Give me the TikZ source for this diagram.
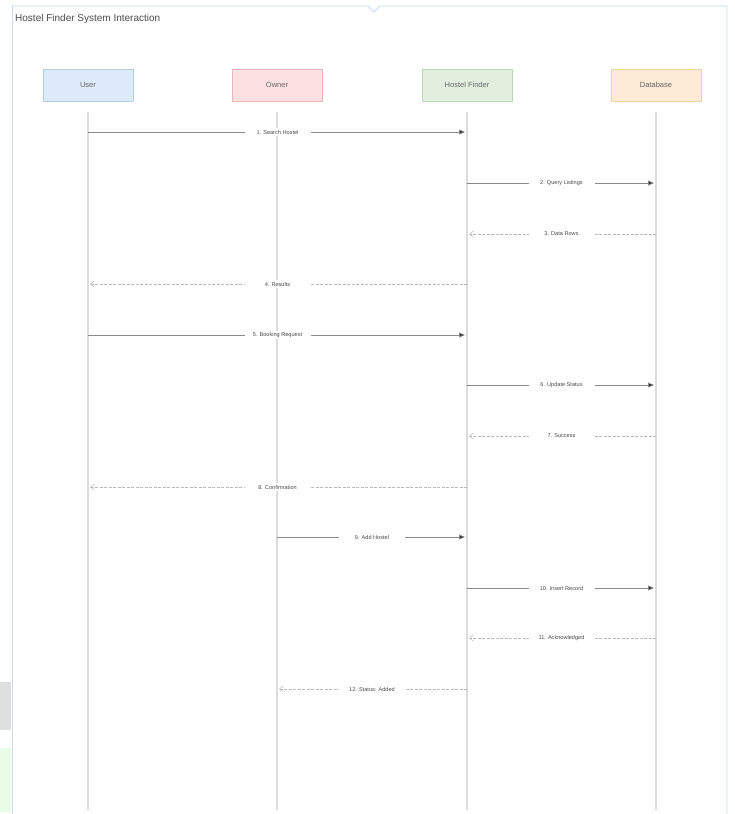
\documentclass[tikz,border=0pt]{standalone}
\usepackage{fontspec}
\setmainfont{Liberation Sans}
\usetikzlibrary{arrows.meta}
\definecolor{frameblue}{HTML}{C9DCEB}
\definecolor{lifegrey}{HTML}{DCDCDC}
\definecolor{msggrey}{HTML}{8A8A8A}
\definecolor{ufill}{HTML}{DDEAF9}\definecolor{udraw}{HTML}{B7CDE8}
\definecolor{ofill}{HTML}{FBE1E1}\definecolor{odraw}{HTML}{EBB8B8}
\definecolor{hfill}{HTML}{E2EFDF}\definecolor{hdraw}{HTML}{BCD7B5}
\definecolor{dfill}{HTML}{FDEBD6}\definecolor{ddraw}{HTML}{F0D2A8}
\tikzset{
  part/.style={draw=#1, line width=0.5pt, minimum width=90pt, minimum height=32pt, inner sep=0pt, font=\fontsize{7.5}{8}\selectfont, text=black!60},
  lifeline/.style={draw=lifegrey, line width=2pt},
  callmsg/.style={draw=msggrey, line width=0.6pt, shorten >=2pt, -{Triangle[length=6pt,width=5pt,fill=black!80]}},
  replymsg/.style={draw=msggrey!60, line width=0.5pt, shorten >=2pt, dash pattern=on 3pt off 1.5pt, -{Straight Barb[length=4pt,width=6pt]}},
  lbl/.style={fill=white, inner sep=1.5pt, font=\fontsize{5.6}{6}\selectfont, text=black!70, minimum width=66pt},
}
\begin{document}
\begin{tikzpicture}[x=1pt,y=-1pt]
\useasboundingbox (0,0) rectangle (734,814);
\fill[white] (0,0) rectangle (734,814);
% frame
\draw[frameblue, line width=0.8pt] (12,6) -- (368,6) -- (374,12) -- (380,6) -- (727,6) -- (727,814);
\draw[frameblue, line width=0.8pt] (12,6) -- (12,814);
\node[anchor=west, inner sep=0pt, font=\fontsize{10}{12}\selectfont, text=black!70] (title) at (15,18.5) {Hostel Finder System Interaction};
% left-edge artifacts
\fill[gray!25] (0,682) rectangle (11,730);
\fill[gray!20!green!10] (0,748) rectangle (11,812);
% participants
\node[part=udraw, fill=ufill] (user) at (88,85) {User};
\node[part=odraw, fill=ofill] (owner) at (277,85) {Owner};
\node[part=hdraw, fill=hfill] (hf) at (467,85) {Hostel Finder};
\node[part=ddraw, fill=dfill] (db) at (656,85) {Database};
% lifeline ends
\coordinate (us) at (88,112);
\coordinate (os) at (277,112);
\coordinate (hs) at (467,112);
\coordinate (ds) at (656,112);
\coordinate (ue) at (88,810);
\coordinate (oe) at (277,810);
\coordinate (he) at (467,810);
\coordinate (de) at (656,810);
\draw[lifeline] (us) -- (ue);
\draw[lifeline] (os) -- (oe);
\draw[lifeline] (hs) -- (he);
\draw[lifeline] (ds) -- (de);
% message anchor points
\foreach \n/\y in {1/132,2/183,3/234,4/284,5/335,6/385,7/436,8/487,9/537,10/588,11/638,12/689}{
  \coordinate (u\n) at (88,\y);
  \coordinate (o\n) at (277,\y);
  \coordinate (h\n) at (467,\y);
  \coordinate (d\n) at (656,\y);
}
\draw[callmsg] (u1) -- node[lbl] {1. Search Hostel} (h1);
\draw[callmsg] (h2) -- node[lbl] {2. Query Listings} (d2);
\draw[replymsg] (d3) -- node[lbl] {3. Data Rows} (h3);
\draw[replymsg] (h4) -- node[lbl] {4. Results} (u4);
\draw[callmsg] (u5) -- node[lbl] {5. Booking Request} (h5);
\draw[callmsg] (h6) -- node[lbl] {6. Update Status} (d6);
\draw[replymsg] (d7) -- node[lbl] {7. Success} (h7);
\draw[replymsg] (h8) -- node[lbl] {8. Confirmation} (u8);
\draw[callmsg] (o9) -- node[lbl] {9. Add Hostel} (h9);
\draw[callmsg] (h10) -- node[lbl] {10. Insert Record} (d10);
\draw[replymsg] (d11) -- node[lbl] {11. Acknowledged} (h11);
\draw[replymsg] (h12) -- node[lbl] {12. Status: Added} (o12);
\end{tikzpicture}
\end{document}
